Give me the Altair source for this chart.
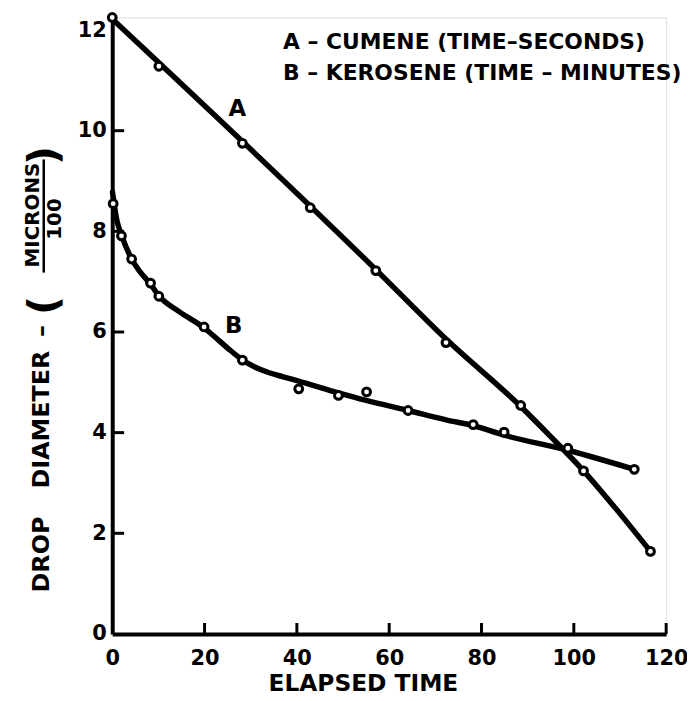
import altair as alt
import pandas as pd

# ---- data ----
A_time = [0, 10.1, 28.2, 42.9, 57.1, 72.3, 88.5, 102.1, 116.6]
A_diam = [12.25, 11.28, 9.75, 8.47, 7.22, 5.79, 4.54, 3.24, 1.64]

B_time = [0.2, 2.0, 4.2, 8.3, 10.1, 19.9, 28.2, 40.4, 49.0, 55.1, 64.1, 78.2, 84.9, 98.7, 113.1]
B_diam = [8.55, 7.91, 7.45, 6.97, 6.71, 6.10, 5.44, 4.87, 4.74, 4.81, 4.44, 4.16, 4.01, 3.69, 3.27]

# hand-drawn fitted curves
A_curve_time = [0, 57.1, 72.3, 88.5, 95.0, 102.1, 109.0, 116.6]
A_curve_diam = [12.22, 7.24, 5.86, 4.52, 3.92, 3.24, 2.50, 1.64]

B_curve_time = [0.05, 1.0, 2.0, 4.2, 6.0, 8.3, 10.1, 14.6, 19.9, 22.0, 25.0, 28.3, 31.0, 34.0, 37.0,
                40.2, 49.0, 55.0, 64.1, 72.5, 78.2, 84.9, 98.7, 113.1]
B_curve_diam = [8.78, 8.22, 7.93, 7.45, 7.20, 6.95, 6.72, 6.40, 6.08, 5.92, 5.68, 5.44, 5.30, 5.19, 5.11,
                5.03, 4.79, 4.64, 4.44, 4.25, 4.14, 3.95, 3.65, 3.27]

curve_labels = ["A", "B"]
label_time = [27.1, 26.3]
label_diam = [10.43, 6.11]

legend_lines = ["A – CUMENE (TIME–SECONDS)", "B – KEROSENE (TIME – MINUTES)"]

x_tick_values = [20, 40, 60, 80, 100, 120]
y_tick_values = [2, 4, 6, 8, 10]
x_label_values = [0, 20, 40, 60, 80, 100, 120]
y_label_values = [0, 2, 4, 6, 8, 10, 12]

x_title = "ELAPSED TIME"
y_title_words = ["DROP", "DIAMETER", "–"]
y_title_num = "MICRONS"
y_title_den = "100"

# ---- chart ----
W, H = 558, 621
FONT = "DejaVu Sans"

xs = alt.Scale(domain=[0, 120], nice=False, zero=False)
ys = alt.Scale(domain=[0, 12.25], nice=False, zero=False)

xax = alt.Axis(values=x_label_values, title=None, grid=False, ticks=False,
               domainWidth=4, domainColor="black", labelColor="black",
               labelFont=FONT, labelFontSize=21, labelFontWeight="bold",
               labelPadding=14, labelFlush=False, labelOverlap=False, format="d")
yax = alt.Axis(values=y_label_values, title=None, grid=False, ticks=False,
               domainWidth=4, domainColor="black", labelColor="black",
               labelFont=FONT, labelFontSize=21, labelFontWeight="bold",
               labelPadding=6, labelOverlap=False, format="d")

dfA = pd.DataFrame({"t": A_time, "d": A_diam})
dfB = pd.DataFrame({"t": B_time, "d": B_diam})
dfAc = pd.DataFrame({"t": A_curve_time, "d": A_curve_diam})
dfBc = pd.DataFrame({"t": B_curve_time, "d": B_curve_diam})
dfL = pd.DataFrame({"t": label_time, "d": label_diam, "s": curve_labels})


def X(f="t"):
    return alt.X(f"{f}:Q", scale=xs, axis=xax)


def Y(f="d"):
    return alt.Y(f"{f}:Q", scale=ys, axis=yax)


def curve(df):
    return alt.Chart(df).mark_line(color="black", strokeWidth=5.5, interpolate="monotone",
                                   strokeCap="round", strokeJoin="round").encode(x=X(), y=Y())


def pts(df):
    return alt.Chart(df).mark_point(shape="circle", filled=False, fill="white", fillOpacity=1,
                                    stroke="black", strokeWidth=3, size=62, opacity=1).encode(x=X(), y=Y())


labels = alt.Chart(dfL).mark_text(font=FONT, fontSize=23, fontWeight="bold", color="black",
                                  baseline="middle", align="center").encode(x=X(), y=Y(), text="s:N")

xt = alt.Chart(pd.DataFrame({"t": x_tick_values})).mark_rule(color="black", strokeWidth=3).encode(
    x=X(), y=alt.value(H), y2=alt.value(H - 11))
yt = alt.Chart(pd.DataFrame({"d": y_tick_values})).mark_rule(color="black", strokeWidth=3).encode(
    y=Y(), x=alt.value(0), x2=alt.value(12))

one = pd.DataFrame({"k": [0]})


def txt(text, x, y, size=23, angle=0, align="center", baseline="middle"):
    kw = dict(text=text, font=FONT, fontSize=size, fontWeight="bold", color="black",
              align=align, baseline=baseline)
    if angle:
        kw["angle"] = angle
    return alt.Chart(one).mark_text(**kw).encode(x=alt.value(x), y=alt.value(y))


leg1 = txt(legend_lines[0], 172, 32, size=22, align="left", baseline="alphabetic")
leg2 = txt(legend_lines[1], 172, 63, size=22, align="left", baseline="alphabetic")
xtitle = txt(x_title, 253, 678, size=23.5, baseline="alphabetic")
yw1 = txt(y_title_words[0], -71, 541, size=24, angle=270)
yw2 = txt(y_title_words[1], -71, 405, size=24, angle=270)
yw3 = txt(y_title_words[2], -71, 316, size=24, angle=270)
lpar = txt("(", -69, 290, size=42, angle=270)
rpar = txt(")", -69, 139, size=42, angle=270)
num = txt(y_title_num, -80, 199, size=20, angle=270)
den = txt(y_title_den, -58, 203, size=20, angle=270)
frac = alt.Chart(one).mark_rule(color="black", strokeWidth=2.5).encode(
    x=alt.value(-69), y=alt.value(143), y2=alt.value(257))

chart = alt.layer(
    curve(dfAc), curve(dfBc), pts(dfA), pts(dfB), labels, xt, yt,
    leg1, leg2, xtitle, yw1, yw2, yw3, lpar, rpar, num, den, frac,
).properties(
    width=W, height=H,
    autosize=alt.AutoSizeParams(type="none"),
    padding={"left": 105, "top": 7, "right": 21, "bottom": 62},
).configure_view(stroke=None).configure(background="white")

chart.save("out.html", embed_options={"renderer": "svg", "actions": False})
